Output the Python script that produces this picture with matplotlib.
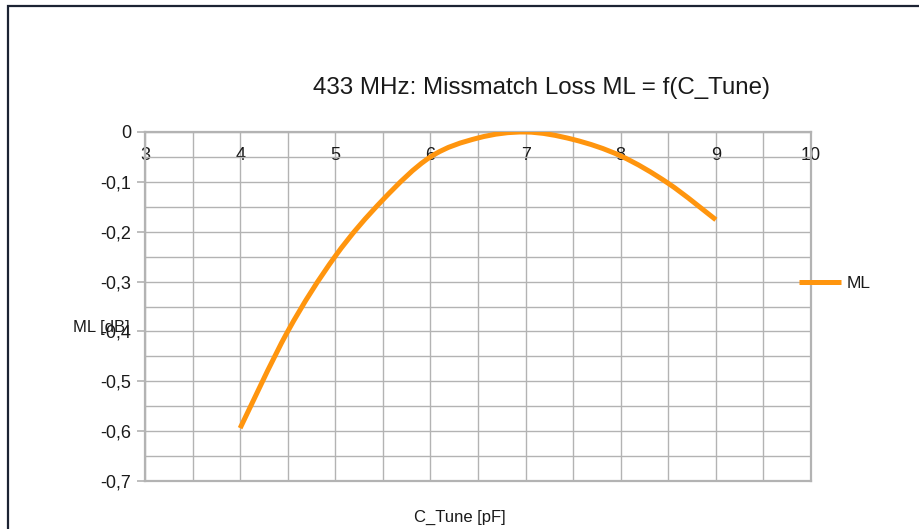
import matplotlib
matplotlib.use("Agg")
import matplotlib.pyplot as plt
from matplotlib.ticker import MultipleLocator, FuncFormatter
from matplotlib.patches import Rectangle, PathPatch
from matplotlib.path import Path
from matplotlib.lines import Line2D

plt.rcParams['font.family'] = ['Liberation Sans', 'DejaVu Sans']

# Missmatch loss vs. tuning capacitance at 433 MHz
c_tune = [4.0, 4.5, 5.0, 5.5, 6.0, 6.5, 7.0, 7.5, 8.0, 8.5, 9.0]
ml_db = [-0.594, -0.400, -0.249, -0.136, -0.050, -0.012, 0.000, -0.015, -0.048, -0.103, -0.176]

x_ticks = [3, 4, 5, 6, 7, 8, 9, 10]
y_ticks = [0, -0.1, -0.2, -0.3, -0.4, -0.5, -0.6, -0.7]

grid_col = '#b3b3b3'
line_col = '#ff950e'
text_col = '#1a1a1a'

fig = plt.figure(figsize=(9.2, 5.29), dpi=100)
ax = fig.add_axes([145 / 920, 48 / 529, 666 / 920, 349 / 529])


def smooth_path(xs, ys):
    # cubic Bezier through every point (Catmull-Rom tangents)
    pts = list(zip(xs, ys))
    n = len(pts)
    verts = [pts[0]]
    codes = [Path.MOVETO]
    for i in range(n - 1):
        p0 = pts[max(i - 1, 0)]
        p1 = pts[i]
        p2 = pts[i + 1]
        p3 = pts[min(i + 2, n - 1)]
        c1 = (p1[0] + (p2[0] - p0[0]) / 6, p1[1] + (p2[1] - p0[1]) / 6)
        c2 = (p2[0] - (p3[0] - p1[0]) / 6, p2[1] - (p3[1] - p1[1]) / 6)
        verts += [c1, c2, p2]
        codes += [Path.CURVE4] * 3
    return Path(verts, codes)


ax.add_patch(PathPatch(smooth_path(c_tune, ml_db), fill=False,
                       edgecolor=line_col, linewidth=3.6, capstyle='butt',
                       zorder=3))

ax.set_xlim(3, 10)
ax.set_ylim(-0.7, 0)
ax.set_xticks(x_ticks)
ax.set_yticks(y_ticks)
ax.xaxis.set_minor_locator(MultipleLocator(0.5))
ax.yaxis.set_minor_locator(MultipleLocator(0.05))
ax.grid(True, which='both', color=grid_col, linewidth=1.0, zorder=0)
ax.set_axisbelow(True)

comma = FuncFormatter(lambda v, p: ('%g' % round(v, 2)).replace('.', ','))
ax.yaxis.set_major_formatter(comma)
ax.xaxis.set_major_formatter(FuncFormatter(lambda v, p: '%d' % v))

# x labels sit just under the zero line
ax.xaxis.set_ticks_position('top')
ax.tick_params(axis='x', which='both', length=0, pad=-23, labelsize=13,
               labelcolor=text_col)
ax.tick_params(axis='y', which='major', length=6, width=1.2, color=grid_col,
               pad=4, labelsize=13, labelcolor=text_col)
ax.tick_params(axis='y', which='minor', length=0)

for s in ax.spines.values():
    s.set_color(grid_col)
    s.set_linewidth(1.6)

ax.set_title('433 MHz: Missmatch Loss ML = f(C_Tune)', fontsize=17.4,
             color=text_col, x=0.595, y=1.103, va='center')
ax.set_ylabel('ML [dB]', rotation=0, fontsize=12, color=text_col,
              ha='left', va='center')
ax.yaxis.set_label_coords(-0.108, 0.441)
ax.set_xlabel('C_Tune [pF]', fontsize=12, color=text_col, va='center')
ax.xaxis.set_label_coords(0.473, -0.103)

handle = Line2D([], [], color=line_col, linewidth=3.6, solid_capstyle='butt')
ax.legend([handle], ['ML'], loc='center left', bbox_to_anchor=(0.982, 0.567),
          frameon=False, handlelength=2.4, handletextpad=0.35, borderpad=0,
          borderaxespad=0, fontsize=12.5, labelcolor=text_col)

# outer chart frame
fig.patches.append(Rectangle((8 / 920, -0.1), 1.2, (529 - 6) / 529 + 0.1,
                             transform=fig.transFigure, fill=False,
                             edgecolor='#1c2333', linewidth=1.6))

fig.savefig('out.png', dpi=100)
